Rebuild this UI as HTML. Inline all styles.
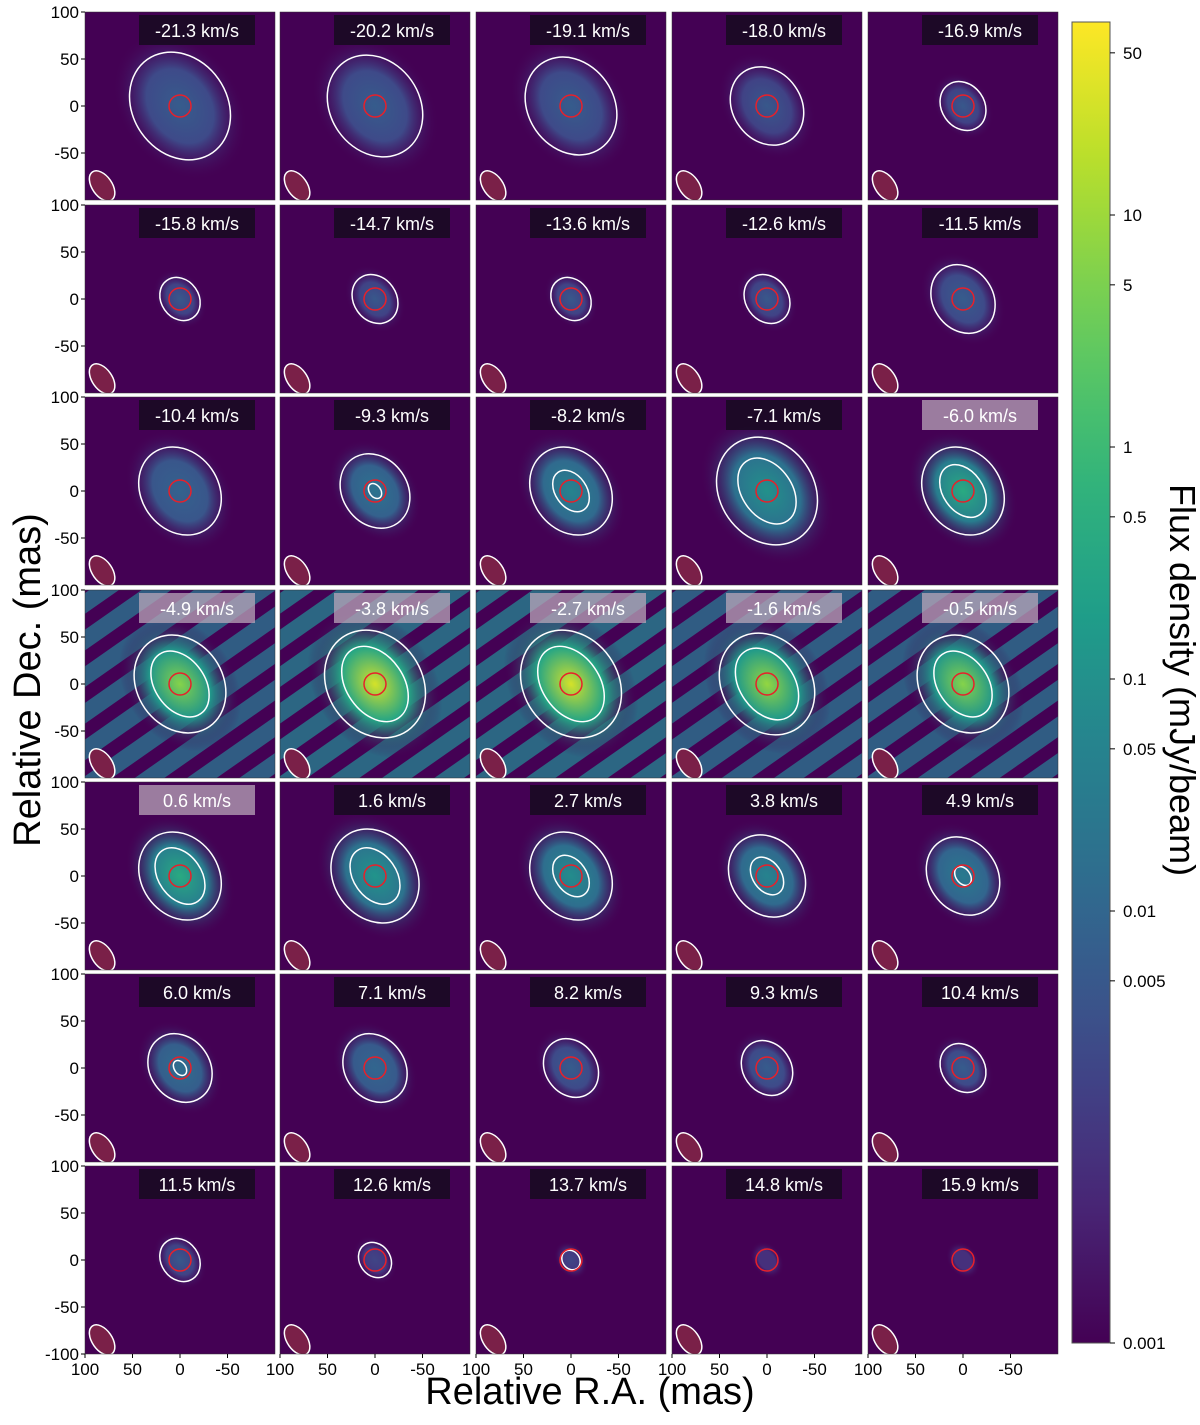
<!DOCTYPE html>
<html><head><meta charset="utf-8"><style>
html,body{margin:0;padding:0;background:#fff}
svg{display:block;font-family:"Liberation Sans","DejaVu Sans",sans-serif}
</style></head><body>
<svg id="fig" width="1200" height="1425" viewBox="0 0 1200 1425" xmlns="http://www.w3.org/2000/svg">
<defs id="defs"></defs>
<g id="panels"></g>
<g id="cbar"></g>
<text x="0" y="0" transform="translate(40,680) rotate(-90)" text-anchor="middle" font-size="38" fill="#000">Relative Dec. (mas)</text>
<text x="590" y="1404" text-anchor="middle" font-size="38" fill="#000">Relative R.A. (mas)</text>
<text x="0" y="0" transform="translate(1170,680) rotate(90)" text-anchor="middle" font-size="36" fill="#000">Flux density (mJy/beam)</text>
</svg>
<script>
const velocities = ["-21.3","-20.2","-19.1","-18.0","-16.9","-15.8","-14.7","-13.6","-12.6","-11.5","-10.4","-9.3","-8.2","-7.1","-6.0","-4.9","-3.8","-2.7","-1.6","-0.5","0.6","1.6","2.7","3.8","4.9","6.0","7.1","8.2","9.3","10.4","11.5","12.6","13.7","14.8","15.9"];
const peakFlux = [0.006,0.006,0.006,0.005,0.005, 0.005,0.005,0.005,0.005,0.006, 0.008,0.02,0.05,0.1,0.4, 6,30,30,8,6, 0.4,0.12,0.08,0.05,0.03, 0.015,0.01,0.006,0.006,0.006, 0.005,0.004,0.004,0.003,0.003];
const outerContour = [55,52,50,40,25, 22,25,22,25,35, 45,38,45,55,45, 50,55,55,52,50, 45,48,45,42,40, 35,35,30,28,25, 22,18,10,0,0];
const innerContour = [0,0,0,0,0, 0,0,0,0,0, 0,8,22,35,28, 35,40,40,38,35, 30,30,22,20,10, 8,0,0,0,0, 0,0,0,0,0];
const bgFlux = [0.002,0.002,0.002,0.002,0.002, 0.002,0.002,0.002,0.002,0.002, 0.002,0.002,0.002,0.002,0.003, 0.02,0.04,0.04,0.02,0.02, 0.004,0.003,0.002,0.002,0.002, 0.002,0.002,0.002,0.002,0.002, 0.002,0.002,0.002,0.002,0.002];
const yTicks = [100,50,0,-50];
const xTicks = [100,50,0,-50];
const cbarTicks = [50,10,5,1,0.5,0.1,0.05,0.01,0.005,0.001];
const cbarLabels = ["50","10","5","1","0.5","0.1","0.05","0.01","0.005","0.001"];

const NS="http://www.w3.org/2000/svg";
function el(tag,attrs,parent){const e=document.createElementNS(NS,tag);for(const k in attrs)e.setAttribute(k,attrs[k]);if(parent)parent.appendChild(e);return e;}
const colX=[85,280,476,672,868], rowY=[12,205,397,590,782,974,1166], PW=190, PH=188;
const sx=PW/200, sy=PH/200;
const CB_TOP=22, CB_BOT=1343, CB_X=1072, CB_W=38;
function cbY(v){ if(v>=0.005) return 911-232*Math.log10(v/0.01); return 983+(0.005-v)/(0.004)*(CB_BOT-983); }
function norm(v){return Math.max(0,Math.min(1,(CB_BOT-cbY(v))/(CB_BOT-CB_TOP)));}
const vir=[[68,1,84],[72,40,120],[62,74,137],[49,104,142],[38,130,142],[31,158,137],[53,183,121],[109,205,89],[180,222,44],[253,231,37]];
function viridis(t){t=Math.max(0,Math.min(1,t));const p=t*(vir.length-1),i=Math.min(vir.length-2,Math.floor(p)),f=p-i;const c=vir[i].map((a,k)=>Math.round(a+(vir[i+1][k]-a)*f));return `rgb(${c[0]},${c[1]},${c[2]})`;}
const defs=document.getElementById('defs'), G=document.getElementById('panels'), CB=document.getElementById('cbar');

const lg=el('linearGradient',{id:'cbg',x1:0,y1:1,x2:0,y2:0},defs);
for(let i=0;i<=20;i++){el('stop',{offset:i/20,'stop-color':viridis(i/20)},lg);}
const cbr=el('rect',{x:CB_X,y:CB_TOP,width:CB_W,height:CB_BOT-CB_TOP,fill:'url(#cbg)',stroke:'#555','stroke-width':1},CB);


cbarTicks.forEach((v,i)=>{const y=cbY(v);
 el('line',{x1:CB_X+CB_W,x2:CB_X+CB_W+5,y1:y,y2:y,stroke:'#000'},CB);
 const t=el('text',{x:CB_X+CB_W+13,y:y+6,'font-size':17,fill:'#000'},CB);t.textContent=cbarLabels[i];
 
 
});

for(let idx=0;idx<35;idx++){
 const r=Math.floor(idx/5), c=idx%5, x0=colX[c], y0=rowY[r];
 const cx=x0+PW/2, cy=y0+PH/2;
 const g=el('g',{},G);
 
 
 el('clipPath',{id:'cp'+idx},defs).appendChild(el('rect',{x:x0,y:y0,width:PW,height:PH}));
 const inner=el('g',{'clip-path':`url(#cp${idx})`},g);
 el('rect',{x:x0,y:y0,width:PW,height:PH,fill:viridis(norm(0.001))},inner);
 if(bgFlux[idx]>0.01){
   for(let k=-4;k<5;k++){el('rect',{x:cx-150,y:cy+k*30-9,width:300,height:17,fill:viridis(norm(bgFlux[idx])),opacity:0.8,transform:`rotate(-35 ${cx} ${cy})`},inner);}
 }
 const rg=el('radialGradient',{id:'bl'+idx},defs);
 el('stop',{offset:0,'stop-color':viridis(norm(peakFlux[idx]))},rg);
 el('stop',{offset:0.5,'stop-color':viridis(norm(Math.sqrt(peakFlux[idx]*0.003)))},rg);
 el('stop',{offset:1,'stop-color':viridis(norm(0.001)),'stop-opacity':0},rg);
 const R=Math.max(outerContour[idx],14)*1.35;
 const blob=el('ellipse',{cx:cx,cy:cy,rx:R*0.85*sx,ry:R*1.15*sy,fill:`url(#bl${idx})`,transform:`rotate(-35 ${cx} ${cy})`},inner);
 
 
 if(outerContour[idx]>0){
  const oc=el('ellipse',{cx:cx,cy:cy,rx:outerContour[idx]*0.9*sx,ry:outerContour[idx]*1.1*sy,fill:'none',stroke:'#fff','stroke-width':1.5,transform:`rotate(-35 ${cx} ${cy})`},inner);
  
  
 }
 if(innerContour[idx]>0){
  const ic=el('ellipse',{cx:cx,cy:cy,rx:innerContour[idx]*0.75*sx,ry:innerContour[idx]*1.1*sy,fill:'none',stroke:'#fff','stroke-width':1.5,transform:`rotate(-35 ${cx} ${cy})`},inner);
  
  
 }
 const rc=el('circle',{cx:cx,cy:cy,r:11,fill:'none',stroke:'#e8202a','stroke-width':1.5},inner);
 
 
 const bx=cx-82*sx, by=cy+85*sy;
 const bm=el('ellipse',{cx:bx,cy:by,rx:10,ry:17,fill:'#7a2048',stroke:'#fff','stroke-width':1.5,transform:`rotate(-35 ${bx} ${by})`},inner);
 
 
 const bright=peakFlux[idx]>=0.3;
 const lx=x0+112;
 el('rect',{x:lx-58,y:y0+3,width:116,height:30,fill:bright?'#b8a6b8':'#1a0a22',opacity:bright?0.75:0.9},g);
 const lt=el('text',{x:lx,y:y0+25,'text-anchor':'middle','font-size':18,fill:'#fff'},g);
 lt.textContent=velocities[idx]+' km/s';
 
 
 el('rect',{x:x0,y:y0,width:PW,height:PH,fill:'none',stroke:'#333','stroke-width':0.5},g);
 if(c===0){
  const ty=r===6?yTicks.concat([-100]):yTicks;
  ty.forEach(v=>{const y=cy-v*sy;
   el('line',{x1:x0-4,x2:x0,y1:y,y2:y,stroke:'#000'},g);
   const t=el('text',{x:x0-6,y:y+6,'text-anchor':'end','font-size':17,fill:'#000'},g);t.textContent=v;
   
   
  });
 }
 if(r===6){
  xTicks.forEach(v=>{const x=cx-v*sx;
   el('line',{x1:x,x2:x,y1:y0+PH,y2:y0+PH+4,stroke:'#000'},g);
   const t=el('text',{x:x,y:y0+PH+21,'text-anchor':'middle','font-size':17,fill:'#000'},g);t.textContent=v;
   
   
  });
 }
}
</script>
</body></html>
